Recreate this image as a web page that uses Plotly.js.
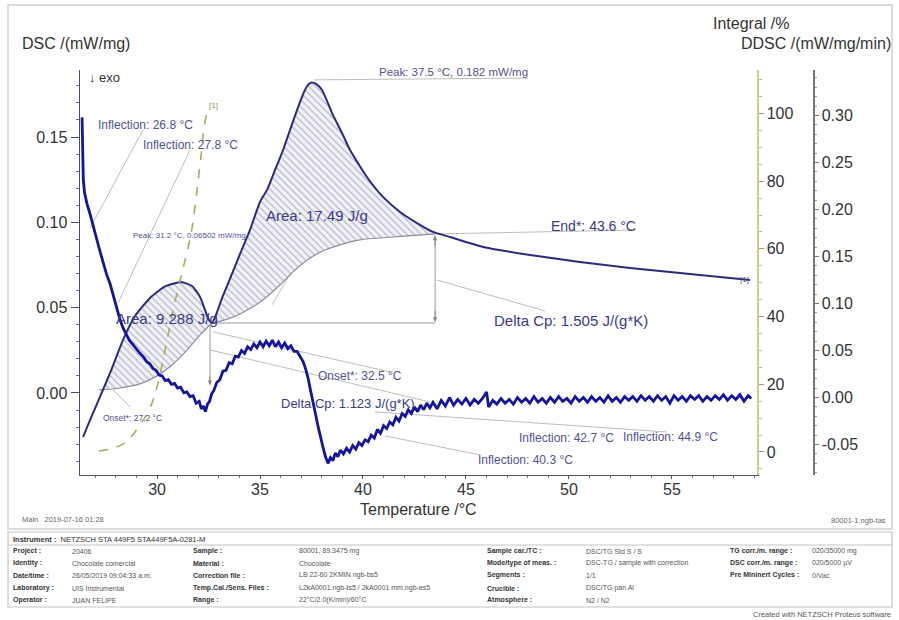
<!DOCTYPE html>
<html><head><meta charset="utf-8">
<script src="https://cdn.plot.ly/plotly-3.0.1.min.js"></script>
<style>html,body{margin:0;padding:0;background:#fff;}#chart{width:899px;height:620px;}</style>
</head><body><div id="chart"></div>
<script>
// ---------------- data ----------------
// DSC /(mW/mg)  (left axis)
const dscT   = [26.41,26.75,27.23,27.72,28.35,28.93,29.66,30.39,31.17,31.70,32.09,32.33,32.52,32.67,32.86,33.16,33.54,34.03,34.51,35.00,35.34,35.73,36.12,36.46,36.80,37.18,37.38,37.52,37.72,38.01,38.54,38.98,39.37,40.19,40.97,41.80,42.62,43.40,44.22,45.83,48.11,50.53,52.96,55.39,57.33,58.79];
const dscVal = [-0.0258,-0.0158,-0.0023,0.0117,0.0311,0.0451,0.0557,0.0625,0.0650,0.0627,0.0563,0.0487,0.0428,0.0410,0.0457,0.0557,0.0668,0.0815,0.0955,0.1120,0.1190,0.1307,0.1424,0.1542,0.1659,0.1776,0.1812,0.1820,0.1812,0.1776,0.1630,0.1524,0.1424,0.1266,0.1149,0.1061,0.0996,0.0944,0.0914,0.0856,0.0809,0.0768,0.0733,0.0703,0.0680,0.0662];

// baselines of the two integrated peaks (DSC units)
const base1T   = [27.18,28.20,29.17,30.00,30.73,31.46,32.09,32.67];
const base1Val = [0.0018,0.0029,0.0053,0.0100,0.0164,0.0252,0.0340,0.0410];
const base2T   = [32.67,33.30,34.03,35.00,35.97,36.70,37.43,38.16,38.88,39.85,41.46,43.50];
const base2Val = [0.0410,0.0428,0.0463,0.0533,0.0633,0.0721,0.0791,0.0838,0.0868,0.0897,0.0914,0.0932];

// Integral /%  (first right axis)
const intT   = [27.18,27.72,28.45,29.17,29.66,30.00,30.39,30.73,31.12,31.46,31.70,31.94,32.14,32.28,32.43,32.57];
const intVal = [0.3,0.9,2.7,8.0,13.0,19.2,30.1,40.5,50.8,59.1,66.2,77.4,87.7,95.7,100.1,101.6];

// DDSC /(mW/mg/min)  (second right axis), noisy signal
const ddscT = [
26.36,26.38,26.42,26.48,26.60,26.75,26.90,27.05,27.20,27.38,
27.55,27.72,27.90,28.06,28.20,28.35,28.50,28.65,28.80,29.00,
29.17,29.35,29.50,29.65,29.80,29.95,30.10,30.25,30.40,30.55,
30.70,30.85,31.00,31.15,31.30,31.45,31.60,31.75,31.90,32.05,
32.15,32.25,32.35,32.45,32.55,32.65,32.75,32.90,33.05,33.20,
33.35,33.50,33.65,33.80,33.95,34.10,34.25,34.40,34.55,34.70,
34.85,35.00,35.15,35.30,35.45,35.60,35.75,35.90,36.05,36.20,
36.35,36.50,36.65,36.80,36.95,37.10,37.22,37.33,37.45,37.57,
37.70,37.82,37.94,38.06,38.18,38.30,38.42,38.54,38.66,38.78,
38.90,39.05,39.20,39.35,39.50,39.65,39.80,39.95,40.10,40.25,
40.40,40.55,40.70,40.85,41.00,41.15,41.30,41.45,41.60,41.75,
41.90,42.05,42.20,42.35,42.50,42.65,42.80,42.95,43.10,43.25,
43.40,43.60,43.80,44.00,44.20,44.40,44.60,44.80,45.00,45.20,
45.40,45.60,45.80,46.00,46.10,46.30,46.50,46.70,46.90,47.10,
47.30,47.50,47.70,47.90,48.10,48.30,48.50,48.70,48.90,49.10,
49.30,49.50,49.70,49.90,50.10,50.30,50.50,50.70,50.90,51.10,
51.30,51.50,51.70,51.90,52.10,52.30,52.50,52.70,52.90,53.10,
53.30,53.50,53.70,53.90,54.10,54.30,54.50,54.70,54.90,55.10,
55.30,55.50,55.70,55.90,56.10,56.30,56.50,56.70,56.90,57.10,
57.30,57.50,57.70,57.90,58.10,58.30,58.50,58.70,58.85];
const ddscVal = [
0.298,0.253,0.232,0.218,0.206,0.195,0.182,0.170,0.158,0.144,
0.131,0.121,0.106,0.093,0.083,0.074,0.067,0.061,0.057,0.051,
0.047,0.043,0.038,0.036,0.031,0.029,0.024,0.023,0.018,0.019,
0.014,0.015,0.010,0.011,0.005,0.006,0.001,0.002,-0.006,-0.004,
-0.012,-0.009,-0.015,-0.007,-0.004,0.004,0.007,0.016,0.019,0.028,
0.029,0.037,0.036,0.044,0.043,0.050,0.047,0.054,0.051,0.057,
0.053,0.059,0.054,0.060,0.055,0.061,0.054,0.059,0.053,0.058,
0.052,0.055,0.049,0.049,0.043,0.038,0.030,0.021,0.008,-0.003,
-0.018,-0.031,-0.043,-0.053,-0.063,-0.070,-0.064,-0.067,-0.059,-0.063,
-0.056,-0.060,-0.054,-0.058,-0.051,-0.055,-0.048,-0.051,-0.045,-0.047,
-0.040,-0.043,-0.034,-0.038,-0.030,-0.033,-0.026,-0.029,-0.021,-0.025,
-0.017,-0.020,-0.013,-0.017,-0.010,-0.015,-0.008,-0.013,-0.006,-0.011,
-0.005,-0.012,-0.003,-0.009,0.000,-0.008,-0.002,-0.007,-0.001,-0.008,
-0.002,-0.006,-0.001,0.006,-0.010,-0.003,-0.007,-0.001,-0.006,-0.002,
-0.007,0.000,-0.005,-0.001,-0.006,0.001,-0.005,-0.001,-0.006,0.000,
-0.005,0.001,-0.004,-0.001,-0.006,0.001,-0.004,0.000,-0.005,0.001,
-0.004,0.000,-0.005,0.002,-0.004,0.000,-0.005,0.001,-0.003,0.001,
-0.004,0.002,-0.003,0.001,-0.004,0.002,-0.003,0.001,-0.006,0.002,
-0.003,0.001,-0.004,0.002,-0.002,0.002,-0.004,0.001,-0.003,0.002,
-0.002,0.003,-0.003,0.002,-0.002,0.003,-0.004,0.002,-0.001];

// tick values
const xTicks    = [30,35,40,45,50,55];
const dscTicks  = [0,0.05,0.10,0.15];
const intTicks  = [0,20,40,60,80,100];
const ddscTicks = [-0.05,0,0.05,0.10,0.15,0.20,0.25,0.30];

// evaluation annotations on the DSC axis: [x0,y0,x1,y1]  (°C, mW/mg)
const leaderLines = [
  [29.32,0.1542,26.75,0.0967],
  [31.60,0.1424,28.11,0.0528],
  [37.62,0.1835,48.01,0.1846],
  [43.50,0.0932,53.25,0.0955],
  [37.91,0.0996,35.58,0.0516],
  [30.15,0.0381,28.69,0.0164],
  [32.72,0.0358,41.31,0.0123],
  [32.57,0.0252,43.25,-0.0053],
  [43.59,0.0662,48.83,0.0481],
  [40.58,-0.0111,54.76,-0.0229],
  [41.07,-0.0252,45.68,-0.0363],
  [27.86,0.0018,28.69,-0.0082]
];
const deltaCpLines = [
  [32.67,0.0410,43.50,0.0410],
  [43.50,0.0922,43.50,0.0418],
  [32.57,0.0400,32.57,0.0047]
];

// ---------------- build ----------------
const FONT = '"Liberation Sans", Arial, Helvetica, sans-serif';
const L=80, TOP=70, W=750, H=405;
const PX = x => (x-L)/W, PY = y => (TOP+H-y)/H;

function region(lo, hi, bT, bV){
  const xs=[], ys=[];
  dscT.forEach((t,i)=>{ if(t>=lo && t<=hi){ xs.push(t); ys.push(dscVal[i]); } });
  for(let i=bT.length-1;i>=0;i--){ xs.push(bT[i]); ys.push(bV[i]); }
  return {xs, ys};
}
const r1 = region(27.2, 32.67, base1T, base1Val);
const r2 = region(32.67, 43.45, base2T, base2Val);
const hatch = {shape:'\\', fgcolor:'#b4b4c6', bgcolor:'#f1f1f8', size:5, solidity:0.22};

const traces = [
  {x:r2.xs, y:r2.ys, mode:'lines', line:{width:0, shape:'spline', smoothing:0.5}, fill:'toself', fillcolor:'#f1f1f8', fillpattern:hatch, hoverinfo:'skip'},
  {x:r1.xs, y:r1.ys, mode:'lines', line:{width:0, shape:'spline', smoothing:0.5}, fill:'toself', fillcolor:'#f1f1f8', fillpattern:hatch, hoverinfo:'skip'},
  {x:base1T, y:base1Val, mode:'lines', line:{color:'#8e8e9c', width:1.2, shape:'spline'}, hoverinfo:'skip'},
  {x:base2T, y:base2Val, mode:'lines', line:{color:'#8e8e9c', width:1.2, shape:'spline'}, hoverinfo:'skip'},
  {x:intT, y:intVal, yaxis:'y2', mode:'lines', line:{color:'#a9ab5e', width:1.6, dash:'dash', shape:'spline'}, name:'Integral'},
  {x:dscT, y:dscVal, mode:'lines', line:{color:'#2b2b7c', width:2, shape:'spline', smoothing:0.5}, name:'DSC'},
  {x:ddscT, y:ddscVal, yaxis:'y3', mode:'lines', line:{color:'#14149c', width:2.8}, name:'DDSC'}
];

const ann = [];
function A(text, x, y, size, color, extra){
  ann.push(Object.assign({text, xref:'paper', yref:'paper', x:PX(x), y:PY(y), xanchor:'left', yanchor:'middle',
    showarrow:false, font:{family:FONT, size, color}}, extra||{}));
}
// axis headings
A('DSC /(mW/mg)', 20, 43, 16, '#333');
A('Integral /%', 711, 24, 16, '#333');
A('DDSC /(mW/mg/min)', 893, 44, 16, '#333', {xanchor:'right'});
A('Temperature /°C', 418, 509, 16, '#333', {xanchor:'center'});
A('↓ exo', 87, 78, 13, '#333');
// evaluation labels
const big='#3a3a88', sm='#52528f';
A('Peak: 37.5 °C, 0.182 mW/mg', 377, 72, 11.5, sm);
A('Inflection: 26.8 °C', 96, 125, 12, sm);
A('Inflection: 27.8 °C', 141, 145, 12, sm);
A('Area: 17.49 J/g', 264, 215, 15, big);
A('End*: 43.6 °C', 549, 226, 14, big);
A('Peak: 31.2 °C, 0.06502 mW/mg', 131, 235, 8, sm);
A('Area: 9.288 J/g', 114, 318, 15, big);
A('Delta Cp: 1.505 J/(g*K)', 492, 320, 15, big);
A('Onset*: 32.5 °C', 316, 376, 12, sm);
A('Delta Cp: 1.123 J/(g*K)', 279, 403, 13, big);
A('Onset*: 27.2 °C', 101, 418, 8.5, sm);
A('Inflection: 42.7 °C', 517, 438, 12, sm);
A('Inflection: 44.9 °C', 621, 437, 12, sm);
A('Inflection: 40.3 °C', 476, 460, 12, sm);
A('[1]', 207, 105, 8, '#8f9150');
A('[1]', 738, 279, 8, '#55558a');
// footer info
A('Main   2019-07-16 01:28', 20, 519, 7.5, '#666');
A('80001-1 ngb-tas', 888, 520, 7.5, '#666', {xanchor:'right'});
A('Created with NETZSCH Proteus software', 893, 614, 7.5, '#555', {xanchor:'right'});
A('<b>Instrument :</b>  NETZSCH STA 449F5 STA449F5A-0281-M', 11, 539, 7.5, '#333');
const tableColsX = [11, 70, 191, 297, 485, 584, 728, 810];
const tableRows = [
 [551, 'Project :', '20406', 'Sample :', '80001, 89.3475 mg', 'Sample car./TC :', 'DSC/TG Std S / S', 'TG corr./m. range :', '020/35000 mg'],
 [563, 'Identity :', 'Chocolate comercial', 'Material :', 'Chocolate', 'Mode/type of meas. :', 'DSC-TG / sample with correction', 'DSC corr./m. range :', '020/5000 µV'],
 [575, 'Date/time :', '26/05/2019 09:04:33 a.m.', 'Correction file :', 'LB 22-60 2KMIN ngb-bs5', 'Segments :', '1/1', 'Pre Mininert Cycles :', '0/Vac'],
 [588, 'Laboratory :', 'UIS Instrumental', 'Temp.Cal./Sens. Files :', 'L2kA0001.ngb-ts5 / 2kA0001 mm.ngb-es5', 'Crucible :', 'DSC/TG pan Al', '', ''],
 [600, 'Operator :', 'JUAN FELIPE', 'Range :', '22°C/2.0(K/min)/60°C', 'Atmosphere :', 'N2 / N2', '', '']
];
tableRows.forEach(r=>{
  for(let c=0;c<8;c++){
    const t=r[c+1]; if(!t) continue;
    A(c%2===0?'<b>'+t+'</b>':t, tableColsX[c], r[0], 7, c%2===0?'#333':'#555');
  }
});
// Delta Cp arrow heads
[[43.50,0.0922,12],[43.50,0.0418,-12],[32.57,0.0047,-10]].forEach(p=>{
  ann.push({xref:'x', yref:'y', x:p[0], y:p[1], ax:0, ay:p[2], text:'', showarrow:true,
    arrowhead:2, arrowsize:0.9, arrowwidth:1, arrowcolor:'#888'});
});

const shapes = [];
leaderLines.forEach(s=>shapes.push({type:'line', xref:'x', yref:'y', x0:s[0], y0:s[1], x1:s[2], y1:s[3], line:{color:'#bdbdbd', width:1}, layer:'below'}));
deltaCpLines.forEach(s=>shapes.push({type:'line', xref:'x', yref:'y', x0:s[0], y0:s[1], x1:s[2], y1:s[3], line:{color:'#9a9aa4', width:1}, layer:'below'}));
// page frames
shapes.push({type:'rect', xref:'paper', yref:'paper', x0:PX(8), x1:PX(892), y0:PY(5), y1:PY(529), line:{color:'#d0d0d0', width:1.5}});
shapes.push({type:'rect', xref:'paper', yref:'paper', x0:PX(8), x1:PX(892), y0:PY(532), y1:PY(607), line:{color:'#c4c4c4', width:1.2}});
shapes.push({type:'line', xref:'paper', yref:'paper', x0:PX(8), x1:PX(892), y0:PY(545), y1:PY(545), line:{color:'#c4c4c4', width:1.2}});

const axBase = {showgrid:false, zeroline:false, showline:true, ticks:'outside', automargin:false};
const layout = {
  width:899, height:620, margin:{l:L, r:899-L-W, t:TOP, b:620-TOP-H, pad:0},
  paper_bgcolor:'#ffffff', plot_bgcolor:'#ffffff', showlegend:false,
  font:{family:FONT, color:'#333'},
  xaxis:Object.assign({}, axBase, {domain:[0,677/W], range:[26.26,59.13], tickvals:xTicks, ticklen:3,
    ticklabelstandoff:-3,
    linecolor:'#555', tickcolor:'#555', linewidth:1.2, tickfont:{size:16, color:'#333'},
    minor:{dtick:1, ticks:'outside', ticklen:2, tickcolor:'#777'}}),
  yaxis:Object.assign({}, axBase, {range:[-0.0481,0.1893], tickvals:dscTicks, ticktext:dscTicks.map(v=>v.toFixed(2)),
    ticklen:8, linecolor:'#4a4a72', tickcolor:'#4a4a72', linewidth:1.5, tickfont:{size:16, color:'#333'},
    minor:{dtick:0.01, ticks:'outside', ticklen:3, tickcolor:'#6a6a88'}}),
  yaxis2:Object.assign({}, axBase, {overlaying:'y', side:'right', anchor:'x', range:[-6.8,112.85], tickvals:intTicks,
    ticklen:5, linecolor:'#cdcd92', tickcolor:'#9a9a70', linewidth:1.5, tickfont:{size:16, color:'#333'},
    minor:{dtick:5, ticks:'outside', ticklen:3, tickcolor:'#b8b88a'}}),
  yaxis3:Object.assign({}, axBase, {overlaying:'y', side:'right', anchor:'free', position:733/W, range:[-0.0824,0.3484],
    tickvals:ddscTicks, ticktext:ddscTicks.map(v=>v.toFixed(2)),
    ticklen:4, linecolor:'#777', tickcolor:'#777', linewidth:1.5, tickfont:{size:16, color:'#333'},
    minor:{dtick:0.01, ticks:'outside', ticklen:2, tickcolor:'#999'}}),
  annotations:ann, shapes:shapes
};
Plotly.newPlot('chart', traces, layout, {staticPlot:true, displayModeBar:false});
</script></body></html>
